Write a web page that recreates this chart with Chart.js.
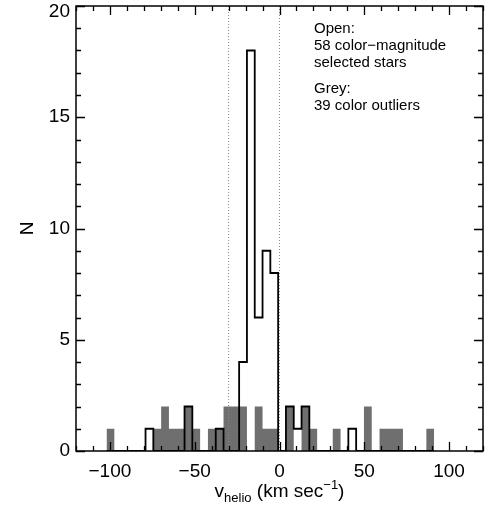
<!DOCTYPE html>
<html>
<head>
<meta charset="utf-8">
<script src="https://cdn.jsdelivr.net/npm/chart.js@4/dist/chart.umd.min.js"></script>
<style>
  html, body { margin: 0; padding: 0; background: #fff; }
  #wrap { width: 490px; height: 507px; position: relative; }
</style>
</head>
<body>
<div id="wrap"><canvas id="histChart"></canvas></div>
<script>
// bin edges (km/s)
const binEdges = [-102, -97.4, -92.8, -88.2, -83.6, -79, -74.4, -69.8, -65.2, -60.6,
  -56, -51.4, -46.8, -42.2, -37.6, -33, -28.4, -23.8, -19.2, -14.6,
  -10, -5.4, -0.8, 3.8, 8.4, 13, 17.6, 22.2, 26.8, 31.4,
  36, 40.6, 45.2, 49.8, 54.4, 59, 63.6, 68.2, 72.8, 77.4,
  82, 86.6, 91.2];

// open histogram: color-magnitude selected stars
const openCounts = [0, 0, 0, 0, 0, 1, 0, 0, 0, 0,
  2, 0, 0, 0, 1, 0, 0, 4, 18, 6,
  9, 8, 0, 2, 1, 2, 0, 0, 0, 0,
  0, 1, 0, 0, 0, 0, 0, 0, 0, 0,
  0, 0];

// grey histogram: color outliers
const greyCounts = [1, 0, 0, 0, 0, 0, 1, 2, 1, 1,
  2, 1, 0, 1, 1, 2, 2, 2, 0, 2,
  1, 1, 0, 2, 0, 2, 1, 0, 0, 1,
  0, 0, 0, 2, 0, 1, 1, 1, 0, 0,
  0, 1];

const xTicks = [-100, -50, 0, 50, 100];
const yTicks = [0, 5, 10, 15, 20];
const markerLines = [-30, 0];
const noteLines = ["Open:", "58 color\u2212magnitude", "selected stars", "Grey:", "39 color outliers"];

const FONT = "'Liberation Sans', Arial, Helvetica, sans-serif";

function stepPoints(counts) {
  const pts = counts.map((c, i) => ({ x: binEdges[i], y: c }));
  pts.push({ x: binEdges[counts.length], y: 0 });
  return pts;
}

function minus(v) {
  return v < 0 ? "\u2212" + Math.abs(v) : String(v);
}

const markerSets = markerLines.map(v => ({
  type: "line",
  data: [{ x: v, y: 0 }, { x: v, y: 20 }],
  borderColor: "#8a8a8a",
  borderWidth: 1,
  borderDash: [1, 2],
  pointRadius: 0,
  fill: false,
  order: 0
}));

const framePlugin = {
  id: "frame",
  afterDatasetsDraw(chart) {
    const { ctx, chartArea: a, scales: { x, y } } = chart;
    ctx.save();
    ctx.strokeStyle = "#000";
    ctx.lineWidth = 1.3;

    // inward ticks on all four sides
    ctx.beginPath();
    for (let v = -120; v <= 120; v += 10) {
      const px = Math.round(x.getPixelForValue(v)) + 0.5;
      const len = v % 50 === 0 ? 9 : 5;
      ctx.moveTo(px, a.bottom); ctx.lineTo(px, a.bottom - len);
      ctx.moveTo(px, a.top); ctx.lineTo(px, a.top + len);
    }
    for (let v = 0; v <= 20; v += 1) {
      const py = Math.round(y.getPixelForValue(v)) + 0.5;
      const len = v % 5 === 0 ? 9 : 5;
      ctx.moveTo(a.left, py); ctx.lineTo(a.left + len, py);
      ctx.moveTo(a.right, py); ctx.lineTo(a.right - len, py);
    }
    ctx.stroke();

    ctx.lineWidth = 1.5;
    ctx.strokeRect(a.left, a.top, a.right - a.left, a.bottom - a.top);

    ctx.fillStyle = "#000";

    // y tick labels (top one kept inside the canvas)
    ctx.font = "19px " + FONT;
    ctx.textAlign = "right";
    ctx.textBaseline = "middle";
    yTicks.forEach(v => {
      const py = Math.max(y.getPixelForValue(v), 12);
      ctx.fillText(minus(v), a.left - 6, py);
    });

    // note text
    ctx.font = "15px " + FONT;
    ctx.textAlign = "left";
    ctx.textBaseline = "alphabetic";
    const noteY = [33, 50, 67, 93, 110];
    noteLines.forEach((t, i) => ctx.fillText(t, 314, noteY[i]));

    // y title
    ctx.save();
    ctx.translate(28, (a.top + a.bottom) / 2);
    ctx.rotate(-Math.PI / 2);
    ctx.textAlign = "center";
    ctx.textBaseline = "middle";
    ctx.font = "19px " + FONT;
    ctx.fillText("N", 0, 0);
    ctx.restore();

    // x title with sub/superscript
    const parts = [
      { t: "v", f: "19px", dy: 0 },
      { t: "helio", f: "13px", dy: 5 },
      { t: " (km sec", f: "19px", dy: 0 },
      { t: "\u22121", f: "13px", dy: -8 },
      { t: ")", f: "19px", dy: 0 }
    ];
    let w = 0;
    parts.forEach(p => { ctx.font = p.f + " " + FONT; p.w = ctx.measureText(p.t).width; w += p.w; });
    let cx = (a.left + a.right) / 2 - w / 2;
    const base = 497;
    parts.forEach(p => {
      ctx.font = p.f + " " + FONT;
      ctx.fillText(p.t, cx, base + p.dy);
      cx += p.w;
    });
    ctx.restore();
  }
};

new Chart(document.getElementById("histChart"), {
  type: "line",
  data: {
    datasets: [
      {
        label: "Open",
        data: stepPoints(openCounts),
        stepped: "before",
        borderColor: "#000",
        borderWidth: 1.8,
        pointRadius: 0,
        fill: false,
        order: 1
      },
      ...markerSets,
      {
        label: "Grey",
        data: stepPoints(greyCounts),
        stepped: "before",
        borderWidth: 0,
        borderColor: "rgba(0,0,0,0)",
        backgroundColor: "#6f6f6f",
        pointRadius: 0,
        fill: "origin",
        order: 2
      }
    ]
  },
  options: {
    responsive: true,
    maintainAspectRatio: false,
    animation: false,
    layout: { padding: { top: 6, right: 7, left: 0, bottom: 0 } },
    plugins: { legend: { display: false }, tooltip: { enabled: false } },
    scales: {
      x: {
        type: "linear",
        min: -120,
        max: 120,
        afterBuildTicks: s => { s.ticks = xTicks.map(v => ({ value: v })); },
        afterFit: s => { s.height = 56; s.paddingLeft = 0; s.paddingRight = 0; },
        grid: { display: false, drawTicks: false },
        border: { display: false },
        ticks: {
          color: "#000",
          font: { family: FONT, size: 19 },
          padding: 9,
          maxRotation: 0,
          autoSkip: false,
          callback: v => minus(v)
        }
      },
      y: {
        type: "linear",
        min: 0,
        max: 20,
        afterBuildTicks: s => { s.ticks = yTicks.map(v => ({ value: v })); },
        afterFit: s => { s.width = 76; s.paddingTop = 0; s.paddingBottom = 0; },
        grid: { display: false, drawTicks: false },
        border: { display: false },
        ticks: { display: false }
      }
    }
  },
  plugins: [framePlugin]
});
</script>
</body>
</html>
